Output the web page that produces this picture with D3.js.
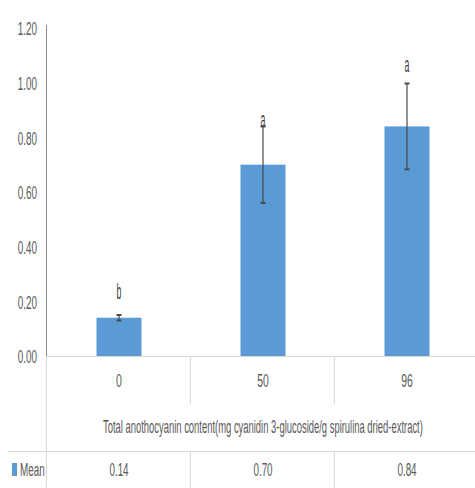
<!DOCTYPE html>
<html><head><meta charset="utf-8">
<script src="https://cdn.jsdelivr.net/npm/d3@7/dist/d3.min.js"></script>
<style>body{margin:0;background:#fff}svg{display:block}</style>
</head><body>
<svg id="c" width="475" height="488"></svg>
<script>
const categories = ["0", "50", "96"];
const means = [0.14, 0.70, 0.84];
const errors = [0.01, 0.14, 0.157];
const letters = ["b", "a", "a"];
const letterPos = [0.234, 0.864, 1.065];
const meanLabels = ["0.14", "0.70", "0.84"];
const yTicks = [0, 0.2, 0.4, 0.6, 0.8, 1.0, 1.2];
const seriesName = "Mean";
const axisTitle = "Total anothocyanin content(mg cyanidin 3-glucoside/g spirulina dried-extract)";

const svg = d3.select("#c");
const FONT = "'Liberation Sans', Arial, sans-serif";
const TXT = "#595959";
const GRID = "#d9d9d9";
const BAR = "#5B9BD5";

const y = d3.scaleLinear().domain([0, 1.2]).range([356, 28]);
const x = d3.scaleBand().domain(categories).range([47, 479]).paddingInner(0).paddingOuter(0);
const barW = x.bandwidth() * 0.3125;

function txt(g, str, px, py, size, sx, anchor, color) {
  return g.append("text")
    .attr("transform", `translate(${px},${py}) scale(${sx},1)`)
    .attr("text-anchor", anchor)
    .attr("dominant-baseline", "central")
    .attr("font-family", FONT)
    .attr("font-size", size)
    .attr("fill", color || TXT)
    .text(str);
}

// y axis labels
const yAxis = d3.axisLeft(y).tickValues(yTicks).tickSize(0).tickPadding(0);
const ya = svg.append("g").attr("transform", "translate(47,0)").call(yAxis);
ya.select(".domain").remove();
ya.selectAll(".tick text").remove();
ya.selectAll(".tick").each(function(d) {
  txt(d3.select(this), d3.format(".2f")(d), -10, 0, 19, 0.52, "end");
});
svg.append("line").attr("x1", 46.5).attr("x2", 46.5).attr("y1", 25).attr("y2", 356)
  .attr("stroke", "#8c8c8c").attr("stroke-width", 1);

// table lines
const tbl = svg.append("g").attr("stroke", GRID).attr("stroke-width", 1);
tbl.append("line").attr("x1", 47).attr("x2", 475).attr("y1", 356.5).attr("y2", 356.5);
tbl.append("line").attr("x1", 8).attr("x2", 475).attr("y1", 451.5).attr("y2", 451.5);
tbl.append("line").attr("x1", 46.5).attr("x2", 46.5).attr("y1", 356).attr("y2", 488);
categories.forEach(c => {
  const xr = Math.round(x(c) + x.bandwidth()) - 0.5;
  tbl.append("line").attr("x1", xr).attr("x2", xr).attr("y1", 356).attr("y2", 404);
  tbl.append("line").attr("x1", xr).attr("x2", xr).attr("y1", 451).attr("y2", 488);
});

// bars
svg.append("g").selectAll("rect").data(categories).join("rect")
  .attr("x", (d) => x(d) + x.bandwidth() / 2 - barW / 2)
  .attr("y", (d, i) => y(means[i]))
  .attr("width", barW)
  .attr("height", (d, i) => y(0) - y(means[i]))
  .attr("fill", BAR);

// error bars
const eg = svg.append("g").attr("stroke", "#4a4a4a");
categories.forEach((c, i) => {
  const cx = x(c) + x.bandwidth() / 2;
  const t = y(means[i] + errors[i]), b = y(means[i] - errors[i]);
  eg.append("line").attr("x1", cx).attr("x2", cx).attr("y1", t).attr("y2", b).attr("stroke-width", 1.2);
  eg.append("line").attr("x1", cx - 2.5).attr("x2", cx + 2.5).attr("y1", t).attr("y2", t).attr("stroke-width", 2);
  eg.append("line").attr("x1", cx - 2.5).attr("x2", cx + 2.5).attr("y1", b).attr("y2", b).attr("stroke-width", 2);
});

// significance letters
categories.forEach((c, i) => {
  txt(svg, letters[i], x(c) + x.bandwidth() / 2, y(letterPos[i]), 22, 0.4, "middle", "#404040");
});

// category labels
categories.forEach(c => {
  txt(svg, c, x(c) + x.bandwidth() / 2, 380, 19, 0.55, "middle");
});

// axis title, compressed to the reference width
const tt = txt(svg, axisTitle, 0, 0, 18, 1, "start");
const len = tt.node().getComputedTextLength();
tt.attr("transform", `translate(103,427) scale(${320 / len},1)`);

// legend row
svg.append("rect").attr("x", 12).attr("y", 463).attr("width", 5).attr("height", 13).attr("fill", BAR);
txt(svg, seriesName, 20, 469, 19, 0.52, "start");
categories.forEach((c, i) => {
  txt(svg, meanLabels[i], x(c) + x.bandwidth() / 2, 469, 19, 0.52, "middle");
});
</script>
</body></html>
